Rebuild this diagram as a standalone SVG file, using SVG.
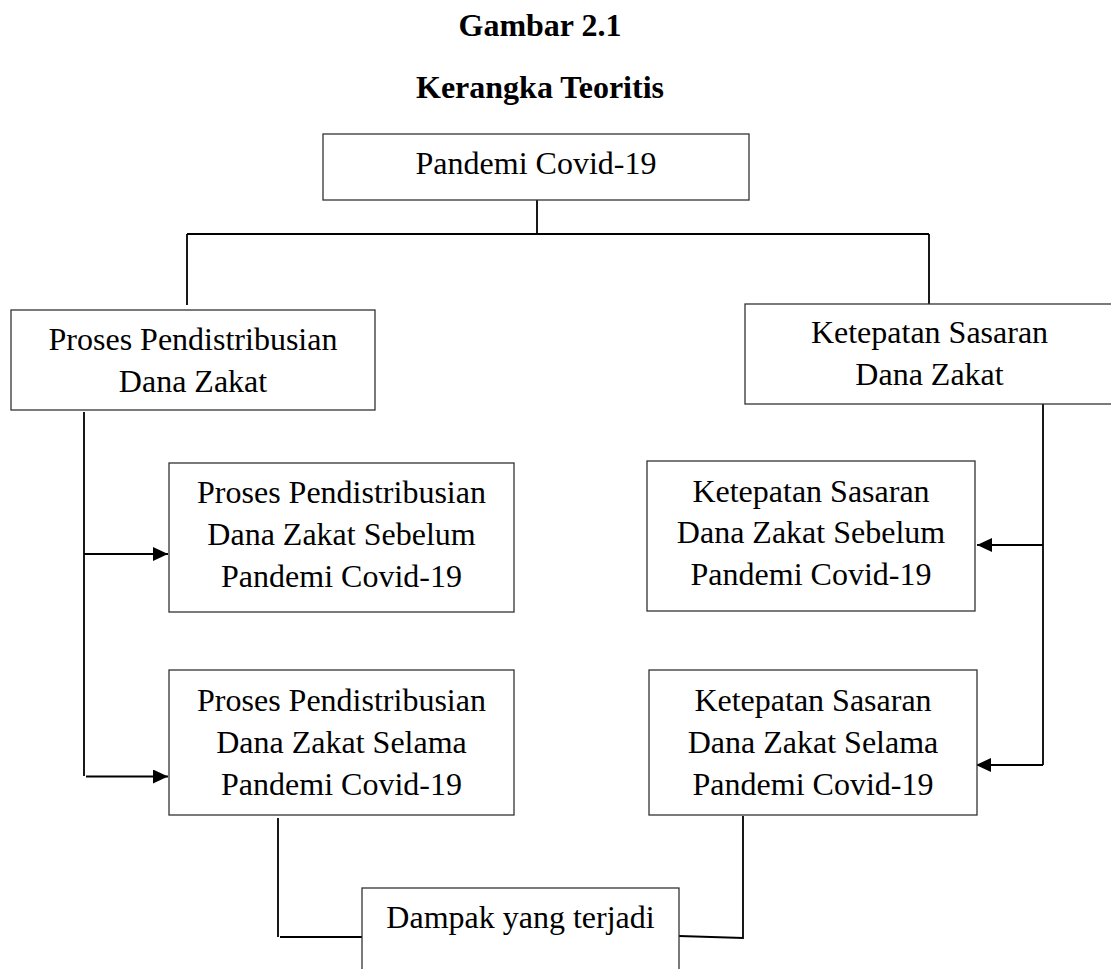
<svg xmlns="http://www.w3.org/2000/svg" width="1111" height="969" viewBox="0 0 1111 969">
<style>
.box{fill:#fff;stroke:#333;stroke-width:1.3}
.t{font-family:"Liberation Serif","Times New Roman",serif;font-size:32px;fill:#000;text-anchor:middle}
.h{font-family:"Liberation Serif","Times New Roman",serif;font-size:32px;font-weight:bold;fill:#000;text-anchor:middle}
.c{fill:none;stroke:#000;stroke-width:1.8}
</style>
<defs>
<marker id="ah" viewBox="0 0 15 14" refX="15" refY="7" markerWidth="15" markerHeight="14" markerUnits="userSpaceOnUse" orient="auto">
<path d="M0,0 L15,7 L0,14 z" fill="#000"/>
</marker>
</defs>
<rect width="1111" height="969" fill="#fff"/>
<g id="title">
<text class="h" x="540" y="36">Gambar 2.1</text>
<text class="h" x="540" y="98">Kerangka Teoritis</text>
</g>
<g id="connectors">
<path class="c" d="M537,200 V234"/>
<path class="c" d="M187,234 H929"/>
<path class="c" d="M187,234 V305"/>
<path class="c" d="M929,234 V304"/>
<path class="c" d="M84,412 V776"/>
<path class="c" d="M84,554 H168" marker-end="url(#ah)"/>
<path class="c" d="M86,776.5 H168" marker-end="url(#ah)"/>
<path class="c" d="M1043,404 V765"/>
<path class="c" d="M1043,545 H977" marker-end="url(#ah)"/>
<path class="c" d="M1043,765 H976" marker-end="url(#ah)"/>
<path class="c" d="M278,818 V937 M280,937 H362"/>
<path class="c" d="M743,816 V938 L679,936"/>
</g>
<g id="n-pandemi">
<rect class="box" x="323" y="134" width="426" height="66"/>
<text class="t" x="536" y="174">Pandemi Covid-19</text>
</g>
<g id="n-proses">
<rect class="box" x="11" y="310" width="364" height="100"/>
<text class="t" x="193" y="350">Proses Pendistribusian</text>
<text class="t" x="193" y="392">Dana Zakat</text>
</g>
<g id="n-ketepatan">
<rect class="box" x="745" y="304" width="369" height="100"/>
<text class="t" x="929.5" y="343">Ketepatan Sasaran</text>
<text class="t" x="929.5" y="385">Dana Zakat</text>
</g>
<g id="n-proses-sebelum">
<rect class="box" x="169" y="463" width="345" height="149"/>
<text class="t" x="341.5" y="503">Proses Pendistribusian</text>
<text class="t" x="341.5" y="545">Dana Zakat Sebelum</text>
<text class="t" x="341.5" y="587">Pandemi Covid-19</text>
</g>
<g id="n-ketepatan-sebelum">
<rect class="box" x="647" y="461" width="328" height="150"/>
<text class="t" x="811" y="502">Ketepatan Sasaran</text>
<text class="t" x="811" y="543">Dana Zakat Sebelum</text>
<text class="t" x="811" y="585">Pandemi Covid-19</text>
</g>
<g id="n-proses-selama">
<rect class="box" x="169" y="670" width="345" height="145"/>
<text class="t" x="341.5" y="711">Proses Pendistribusian</text>
<text class="t" x="341.5" y="753">Dana Zakat Selama</text>
<text class="t" x="341.5" y="795">Pandemi Covid-19</text>
</g>
<g id="n-ketepatan-selama">
<rect class="box" x="649" y="670" width="328" height="145"/>
<text class="t" x="813" y="711">Ketepatan Sasaran</text>
<text class="t" x="813" y="753">Dana Zakat Selama</text>
<text class="t" x="813" y="795">Pandemi Covid-19</text>
</g>
<g id="n-dampak">
<rect class="box" x="362" y="888" width="317" height="100"/>
<text class="t" x="520.5" y="928">Dampak yang terjadi</text>
</g>
</svg>
